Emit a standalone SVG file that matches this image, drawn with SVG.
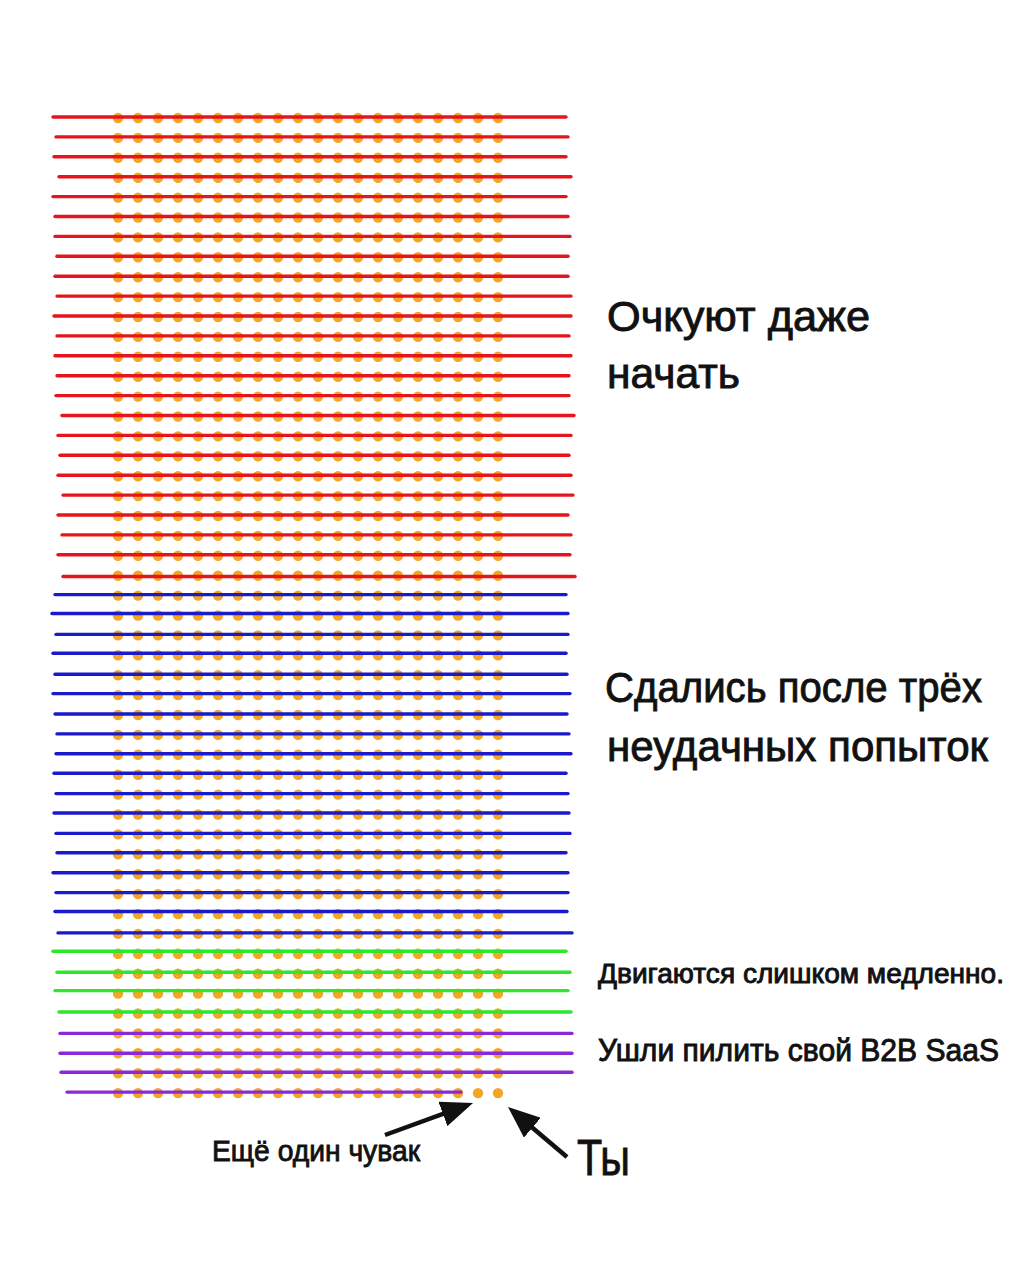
<svg xmlns="http://www.w3.org/2000/svg" xmlns:xlink="http://www.w3.org/1999/xlink" width="1024" height="1280" viewBox="0 0 1024 1280">
<style>
.dot{fill:#f4a526}
.ln{stroke-width:3.4;stroke-linecap:round}
.red{stroke:#e6141c}
.blue{stroke:#1a1acb}
.green{stroke:#2ee62a}
.purple{stroke:#8d28d8}
.lbl{font-family:"Liberation Sans","Noto Sans",sans-serif;fill:#111;stroke:#111;stroke-width:0.9}
.arrow{stroke:#111;stroke-width:4.5;fill:none;marker-end:url(#head)}
</style>
<defs>
<g id="dotrow">
<circle class="dot" cx="118" cy="0" r="5.2"/><circle class="dot" cx="138" cy="0" r="5.2"/><circle class="dot" cx="158" cy="0" r="5.2"/><circle class="dot" cx="178" cy="0" r="5.2"/><circle class="dot" cx="198" cy="0" r="5.2"/><circle class="dot" cx="218" cy="0" r="5.2"/><circle class="dot" cx="238" cy="0" r="5.2"/><circle class="dot" cx="258" cy="0" r="5.2"/><circle class="dot" cx="278" cy="0" r="5.2"/><circle class="dot" cx="298" cy="0" r="5.2"/><circle class="dot" cx="318" cy="0" r="5.2"/><circle class="dot" cx="338" cy="0" r="5.2"/><circle class="dot" cx="358" cy="0" r="5.2"/><circle class="dot" cx="378" cy="0" r="5.2"/><circle class="dot" cx="398" cy="0" r="5.2"/><circle class="dot" cx="418" cy="0" r="5.2"/><circle class="dot" cx="438" cy="0" r="5.2"/><circle class="dot" cx="458" cy="0" r="5.2"/><circle class="dot" cx="478" cy="0" r="5.2"/><circle class="dot" cx="498" cy="0" r="5.2"/>
</g>
<marker id="head" viewBox="0 0 32 26" refX="22" refY="13" markerWidth="32" markerHeight="26" markerUnits="userSpaceOnUse" orient="auto">
<path d="M0,0 L32,13 L0,26 z" fill="#111"/>
</marker>
</defs>
<rect width="1024" height="1280" fill="#ffffff"/>

<g id="dots">
<use xlink:href="#dotrow" y="118"/><use xlink:href="#dotrow" y="137.9"/><use xlink:href="#dotrow" y="157.8"/><use xlink:href="#dotrow" y="177.7"/><use xlink:href="#dotrow" y="197.6"/><use xlink:href="#dotrow" y="217.5"/><use xlink:href="#dotrow" y="237.4"/><use xlink:href="#dotrow" y="257.3"/><use xlink:href="#dotrow" y="277.2"/><use xlink:href="#dotrow" y="297.1"/>
<use xlink:href="#dotrow" y="317"/><use xlink:href="#dotrow" y="336.9"/><use xlink:href="#dotrow" y="356.8"/><use xlink:href="#dotrow" y="376.7"/><use xlink:href="#dotrow" y="396.6"/><use xlink:href="#dotrow" y="416.5"/><use xlink:href="#dotrow" y="436.4"/><use xlink:href="#dotrow" y="456.3"/><use xlink:href="#dotrow" y="476.2"/><use xlink:href="#dotrow" y="496.1"/>
<use xlink:href="#dotrow" y="516"/><use xlink:href="#dotrow" y="535.9"/><use xlink:href="#dotrow" y="555.8"/><use xlink:href="#dotrow" y="575.7"/><use xlink:href="#dotrow" y="595.6"/><use xlink:href="#dotrow" y="615.5"/><use xlink:href="#dotrow" y="635.4"/><use xlink:href="#dotrow" y="655.3"/><use xlink:href="#dotrow" y="675.2"/><use xlink:href="#dotrow" y="695.1"/>
<use xlink:href="#dotrow" y="715"/><use xlink:href="#dotrow" y="734.9"/><use xlink:href="#dotrow" y="754.8"/><use xlink:href="#dotrow" y="774.7"/><use xlink:href="#dotrow" y="794.6"/><use xlink:href="#dotrow" y="814.5"/><use xlink:href="#dotrow" y="834.4"/><use xlink:href="#dotrow" y="854.3"/><use xlink:href="#dotrow" y="874.2"/><use xlink:href="#dotrow" y="894.1"/>
<use xlink:href="#dotrow" y="914"/><use xlink:href="#dotrow" y="933.9"/><use xlink:href="#dotrow" y="953.8"/><use xlink:href="#dotrow" y="973.7"/><use xlink:href="#dotrow" y="993.6"/><use xlink:href="#dotrow" y="1013.5"/><use xlink:href="#dotrow" y="1033.4"/><use xlink:href="#dotrow" y="1053.3"/><use xlink:href="#dotrow" y="1073.2"/><use xlink:href="#dotrow" y="1093.1"/>
</g>

<g id="red-rows">
<line class="ln red" x1="53" y1="117" x2="566" y2="117"/>
<line class="ln red" x1="56" y1="136.9" x2="568" y2="136.9"/>
<line class="ln red" x1="54" y1="156.8" x2="566" y2="156.8"/>
<line class="ln red" x1="59" y1="176.7" x2="571" y2="176.7"/>
<line class="ln red" x1="53" y1="196.6" x2="566" y2="196.6"/>
<line class="ln red" x1="55" y1="216.5" x2="568" y2="216.5"/>
<line class="ln red" x1="55" y1="236.4" x2="570" y2="236.4"/>
<line class="ln red" x1="57" y1="256.3" x2="568" y2="256.3"/>
<line class="ln red" x1="55" y1="276.2" x2="568" y2="276.2"/>
<line class="ln red" x1="57" y1="296.1" x2="571" y2="296.1"/>
<line class="ln red" x1="54" y1="316" x2="571" y2="316"/>
<line class="ln red" x1="57" y1="335.9" x2="569" y2="335.9"/>
<line class="ln red" x1="55" y1="355.8" x2="571" y2="355.8"/>
<line class="ln red" x1="57" y1="375.7" x2="569" y2="375.7"/>
<line class="ln red" x1="56" y1="395.6" x2="569" y2="395.6"/>
<line class="ln red" x1="62" y1="415.5" x2="574" y2="415.5"/>
<line class="ln red" x1="58" y1="435.4" x2="571" y2="435.4"/>
<line class="ln red" x1="60" y1="455.3" x2="569" y2="455.3"/>
<line class="ln red" x1="58" y1="475.2" x2="571" y2="475.2"/>
<line class="ln red" x1="63" y1="495.1" x2="573" y2="495.1"/>
<line class="ln red" x1="58" y1="515" x2="568" y2="515"/>
<line class="ln red" x1="62" y1="534.9" x2="571" y2="534.9"/>
<line class="ln red" x1="58" y1="554.8" x2="570" y2="554.8"/>
<line class="ln red" x1="63" y1="576.5" x2="575" y2="576.5"/>
</g>

<g id="blue-rows">
<line class="ln blue" x1="55" y1="594.6" x2="566" y2="594.6"/>
<line class="ln blue" x1="52" y1="613.5" x2="568" y2="613.5"/>
<line class="ln blue" x1="56" y1="634.4" x2="568" y2="634.4"/>
<line class="ln blue" x1="53" y1="653.3" x2="566" y2="653.3"/>
<line class="ln blue" x1="55" y1="674.2" x2="567" y2="674.2"/>
<line class="ln blue" x1="53" y1="693.6" x2="570" y2="693.6"/>
<line class="ln blue" x1="55" y1="714" x2="567" y2="714"/>
<line class="ln blue" x1="57" y1="733.9" x2="569" y2="733.9"/>
<line class="ln blue" x1="56" y1="753.8" x2="571" y2="753.8"/>
<line class="ln blue" x1="54" y1="773.2" x2="566" y2="773.2"/>
<line class="ln blue" x1="56" y1="793.6" x2="568" y2="793.6"/>
<line class="ln blue" x1="54" y1="813" x2="569" y2="813"/>
<line class="ln blue" x1="56" y1="833.4" x2="570" y2="833.4"/>
<line class="ln blue" x1="57" y1="852.8" x2="566" y2="852.8"/>
<line class="ln blue" x1="53" y1="872.7" x2="568" y2="872.7"/>
<line class="ln blue" x1="56" y1="892.6" x2="568" y2="892.6"/>
<line class="ln blue" x1="55" y1="911.5" x2="567" y2="911.5"/>
<line class="ln blue" x1="58" y1="932.9" x2="572" y2="932.9"/>
</g>

<g id="green-rows">
<line class="ln green" x1="53" y1="951.3" x2="566" y2="951.3"/>
<line class="ln green" x1="57" y1="972.2" x2="570" y2="972.2"/>
<line class="ln green" x1="55" y1="990.6" x2="568" y2="990.6"/>
<line class="ln green" x1="59" y1="1012" x2="571" y2="1012"/>
</g>

<g id="purple-rows">
<line class="ln purple" x1="60" y1="1033.4" x2="572" y2="1033.4"/>
<line class="ln purple" x1="60" y1="1053.3" x2="572" y2="1053.3"/>
<line class="ln purple" x1="61" y1="1072.2" x2="572" y2="1072.2"/>
<line class="ln purple" x1="67" y1="1092.1" x2="461" y2="1092.1"/>
</g>

<g id="label-red">
<text class="lbl" x="607" y="331" font-size="43" textLength="263" lengthAdjust="spacingAndGlyphs">Очкуют даже</text>
<text class="lbl" x="607" y="388" font-size="43" textLength="133" lengthAdjust="spacingAndGlyphs">начать</text>
</g>
<g id="label-blue">
<text class="lbl" x="605" y="702" font-size="43" textLength="377" lengthAdjust="spacingAndGlyphs">Сдались после трёх</text>
<text class="lbl" x="607" y="761" font-size="43" textLength="381" lengthAdjust="spacingAndGlyphs">неудачных попыток</text>
</g>
<g id="label-green">
<text class="lbl" x="598" y="983" font-size="27" textLength="406" lengthAdjust="spacingAndGlyphs">Двигаются слишком медленно.</text>
</g>
<g id="label-purple">
<text class="lbl" x="598" y="1061" font-size="31" textLength="401" lengthAdjust="spacingAndGlyphs">Ушли пилить свой B2B SaaS</text>
</g>
<g id="label-other">
<text class="lbl" x="212" y="1161" font-size="30" textLength="208" lengthAdjust="spacingAndGlyphs">Ещё один чувак</text>
</g>
<g id="label-you">
<text class="lbl" x="577" y="1175" font-size="50" textLength="53" lengthAdjust="spacingAndGlyphs">Ты</text>
</g>

<g id="connectors">
<line class="arrow" x1="385" y1="1135" x2="463.6" y2="1106.4"/>
<line class="arrow" x1="567" y1="1157" x2="515.6" y2="1113.5"/>
</g>
</svg>
